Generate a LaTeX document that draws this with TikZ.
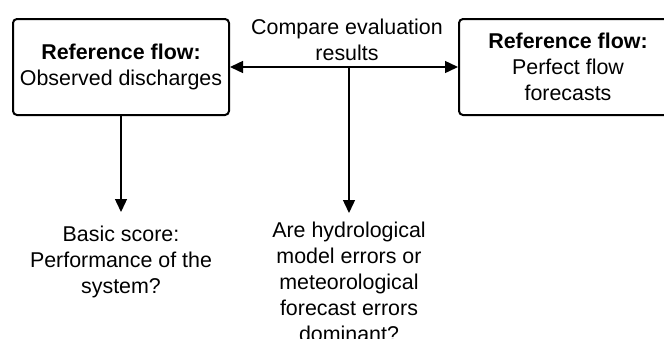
\documentclass[tikz,border=0pt]{standalone}
\usepackage{fontspec}
\setmainfont{Liberation Sans}
\usetikzlibrary{arrows.meta,positioning,calc}
\tikzset{
  flowbox/.style={rectangle, rounded corners=4pt, draw=black, line width=2pt,
                  align=center, minimum width=216pt, minimum height=96pt, inner sep=2pt},
  answer/.style={align=center, inner sep=0pt, outer sep=9pt},
  arr/.style={-{Triangle[length=13pt,width=12pt]}, line width=1.4pt},
}

\begin{document}
\begin{tikzpicture}[x=1pt, y=-1pt, every node/.style={font=\fontsize{21.4}{26}\selectfont}]
    \useasboundingbox (0,0) rectangle (664,338);
    \node[flowbox] (obs) at (121,67) {\textbf{Reference flow:}\\Observed discharges};
    \node[flowbox, minimum width=218pt, right=228pt of obs] (perf) {\textbf{Reference flow:}\\
      Perfect flow\\forecasts};
    \node[answer] (cmp) at (347,39.5) {Compare evaluation\\results};
    \coordinate (split) at (349,67);
    \node[answer, anchor=north] (dom) at (349,213) {Are hydrological\\model errors or\\
      meteorological\\forecast errors\\dominant?};
    \node[answer, outer sep=14pt, anchor=north] (basic) at (121,212) {Basic score:\\
      Performance of the\\system?};
    \draw[arr, {Triangle[length=13pt,width=12pt]}-{Triangle[length=13pt,width=12pt]}] (obs) -- (perf);
    \draw[arr] (obs) -- (basic);
    \draw[arr] (split) -- (dom);
  \end{tikzpicture}
\end{document}
